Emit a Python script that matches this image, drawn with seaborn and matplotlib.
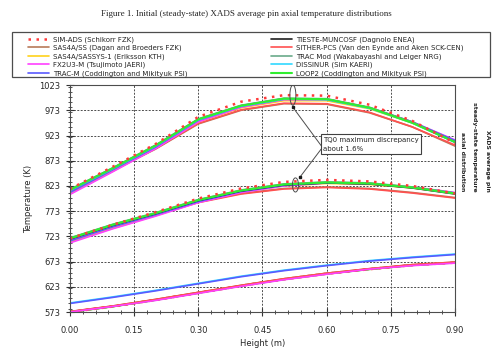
import numpy as np
import pandas as pd
import seaborn as sns
import matplotlib.pyplot as plt
from matplotlib.patches import Ellipse, Rectangle
from matplotlib.ticker import MultipleLocator

# axial positions (m)
heights = [0.0, 0.1, 0.2, 0.3, 0.4, 0.5, 0.6, 0.7, 0.8, 0.9]

codes = [
    "SIM-ADS (Schikorr FZK)",
    "SAS4A/SS (Dagan and Broeders FZK)",
    "SAS4A/SASSYS-1 (Eriksson KTH)",
    "FX2U3-M (Tsujimoto JAERI)",
    "TRAC-M (Coddington and Mikityuk PSI)",
    "TIESTE-MUNCOSF (Dagnolo ENEA)",
    "SITHER-PCS (Van den Eynde and Aken SCK-CEN)",
    "TRAC Mod (Wakabayashi and Leiger NRG)",
    "DISSINUR (Sim KAERI)",
    "LOOP2 (Coddington and Mikityuk PSI)",
]

# upper group of curves (K), one row per code
T_upper = [
    [817, 861, 906, 960, 990, 1003, 1002, 984, 952, 908],
    [812, 853, 896, 946, 973, 986, 985, 968, 940, 902],
    [808, 852, 898, 950, 978, 992, 992, 976, 948, 910],
    [806, 851, 897, 950, 979, 994, 994, 978, 950, 914],
    [810, 855, 900, 953, 981, 995, 995, 978, 950, 913],
    [815, 858, 903, 955, 982, 996, 995, 978, 949, 910],
    [813, 854, 897, 947, 974, 987, 986, 969, 940, 904],
    [816, 859, 904, 956, 983, 997, 996, 979, 950, 910],
    [814, 857, 902, 954, 981, 995, 994, 977, 948, 909],
    [815, 858, 903, 955, 982, 996, 995, 978, 948, 910],
]

# middle group of curves (K)
T_middle = [
    [719, 746, 771, 798, 818, 831, 835, 832, 823, 808],
    [716, 742, 766, 791, 808, 818, 821, 818, 810, 800],
    [712, 739, 764, 791, 811, 823, 828, 826, 819, 808],
    [710, 738, 763, 790, 810, 823, 829, 828, 821, 810],
    [714, 742, 766, 792, 812, 824, 829, 827, 820, 809],
    [718, 745, 768, 794, 813, 825, 829, 827, 819, 807],
    [716, 742, 765, 790, 807, 817, 820, 817, 809, 799],
    [720, 747, 770, 796, 815, 827, 831, 829, 821, 809],
    [719, 746, 769, 795, 814, 826, 830, 828, 820, 808],
    [719, 746, 769, 795, 814, 826, 830, 828, 820, 808],
]

# lower group of curves (K)
T_lower = [
    [573, 584, 597, 611, 625, 638, 649, 658, 666, 671],
    [574, 585, 598, 612, 626, 639, 650, 659, 667, 672],
    [573, 584, 597, 611, 625, 638, 649, 658, 666, 671],
    [573, 584, 596, 610, 624, 637, 648, 658, 665, 670],
    [590, 602, 615, 629, 643, 655, 665, 674, 681, 687],
    [573, 584, 597, 611, 625, 638, 649, 658, 666, 671],
    [574, 585, 598, 612, 626, 639, 650, 659, 667, 672],
    [573, 584, 597, 611, 625, 638, 649, 658, 666, 671],
    [591, 603, 616, 630, 644, 656, 666, 675, 682, 688],
    [573, 584, 597, 611, 625, 638, 649, 658, 666, 671],
]

colors = ["#ff3a3a", "#b87a5a", "#ffd21a", "#ff40ff", "#5a5aff",
          "#202020", "#ff5050", "#6aaa8a", "#30d8ff", "#30ee30"]
styles = [(0, (1, 2.2)), "-", "-", "-", "-", "-", "-", "-", "-", "-"]
widths = [1.8, 1.2, 1.2, 1.2, 1.2, 1.2, 1.2, 1.2, 1.2, 1.5]
# drawing order (last on top) per group
order_upper = [1, 6, 2, 3, 4, 5, 8, 7, 9, 0]
order_lower = [7, 9, 5, 2, 1, 0, 6, 3, 8, 4]

sns.set_style("ticks")
plt.rcParams["font.family"] = ["DejaVu Sans"]

fig, ax = plt.subplots(figsize=(4.92, 3.53), dpi=100)
fig.subplots_adjust(left=0.142, right=0.925, bottom=0.116, top=0.759)

for group, order in [(T_upper, order_upper), (T_middle, order_upper),
                     (T_lower, order_lower)]:
    for z, i in enumerate(order):
        df = pd.DataFrame({"h": heights, "T": group[i]})
        sns.lineplot(data=df, x="h", y="T", ax=ax, color=colors[i],
                     linestyle=styles[i], linewidth=widths[i],
                     zorder=2 + z * 0.01, legend=False)

# legend handles in the original order
handles = [plt.Line2D([], [], color=colors[i], linestyle=styles[i],
                      linewidth=widths[i]) for i in range(len(codes))]

ax.set_xlim(0, 0.9)
ax.set_ylim(573, 1023)
ax.set_xticks(np.arange(0, 0.91, 0.15))
ax.set_xticklabels(["0.00", "0.15", "0.30", "0.45", "0.60", "0.75", "0.90"])
ax.set_yticks(np.arange(573, 1024, 50))
ax.xaxis.set_minor_locator(MultipleLocator(0.03))
ax.yaxis.set_minor_locator(MultipleLocator(10))
ax.tick_params(which="major", direction="inout", length=6, width=0.8,
               labelsize=6, color="0.2")
ax.tick_params(which="minor", direction="inout", length=3, width=0.6,
               color="0.2")
ax.tick_params(axis="x", which="major", pad=7)
ax.tick_params(axis="y", which="major", pad=4)
ax.grid(True, which="major", color="0.3", linestyle=(0, (2, 1.5)),
        linewidth=0.7)
for sp in ax.spines.values():
    sp.set_visible(True)
    sp.set_linewidth(0.8)
    sp.set_color("0.3")

ax.set_xlabel("Height (m)", fontsize=6, labelpad=3)
ax.set_ylabel("Temperature (K)", fontsize=6, labelpad=4)

# discrepancy annotation
ax.add_patch(Ellipse((0.521, 1003), 0.014, 40, fill=False, ec="0.3", lw=0.7,
                     zorder=5))
ax.add_patch(Ellipse((0.527, 825), 0.014, 28, fill=False, ec="0.3", lw=0.7,
                     zorder=5))
ax.plot([0.521, 0.587], [979, 903], color="0.3", lw=0.7, zorder=5)
ax.plot([0.538, 0.587], [841, 896], color="0.3", lw=0.7, zorder=5)
ax.plot([0.521, 0.538], [979, 841], ls="none", marker="s", ms=2,
        color="0.1", zorder=5)
ax.text(0.592, 906, "TQ0 maximum discrepancy\nabout 1.6%", fontsize=5,
        va="center", ha="left", linespacing=1.6, zorder=6,
        bbox=dict(boxstyle="square,pad=0.35", fc="white", ec="0.25", lw=0.8))

fig.text(0.5, 0.96, "Figure 1. Initial (steady-state) XADS average pin axial "
         "temperature distributions", ha="center", va="center",
         fontsize=6.5, family="Liberation Serif")

fig.text(475 / 492, 0.584,
         "XADS average pin\nsteady-state temperature\naxial distribution",
         rotation=270, ha="center", va="center", ma="right", fontsize=4.4,
         fontweight="bold", linespacing=2.8)

# legend frame spanning the width, then two legend columns inside it
fig.patches.append(Rectangle((12 / 492, 1 - 77 / 353), 478 / 492, 45 / 353,
                             transform=fig.transFigure, fill=False,
                             ec="0.3", lw=0.9))
leg_kw = dict(loc="upper left", fontsize=5, handlelength=2.9,
              handletextpad=0.6, labelspacing=0.28, borderpad=0,
              frameon=False)
fig.legend(handles[:5], codes[:5], bbox_to_anchor=(25 / 492, 1 - 33 / 353),
           **leg_kw)
fig.legend(handles[5:], codes[5:], bbox_to_anchor=(268 / 492, 1 - 33 / 353),
           **leg_kw)

fig.savefig("out.png", dpi=100)
